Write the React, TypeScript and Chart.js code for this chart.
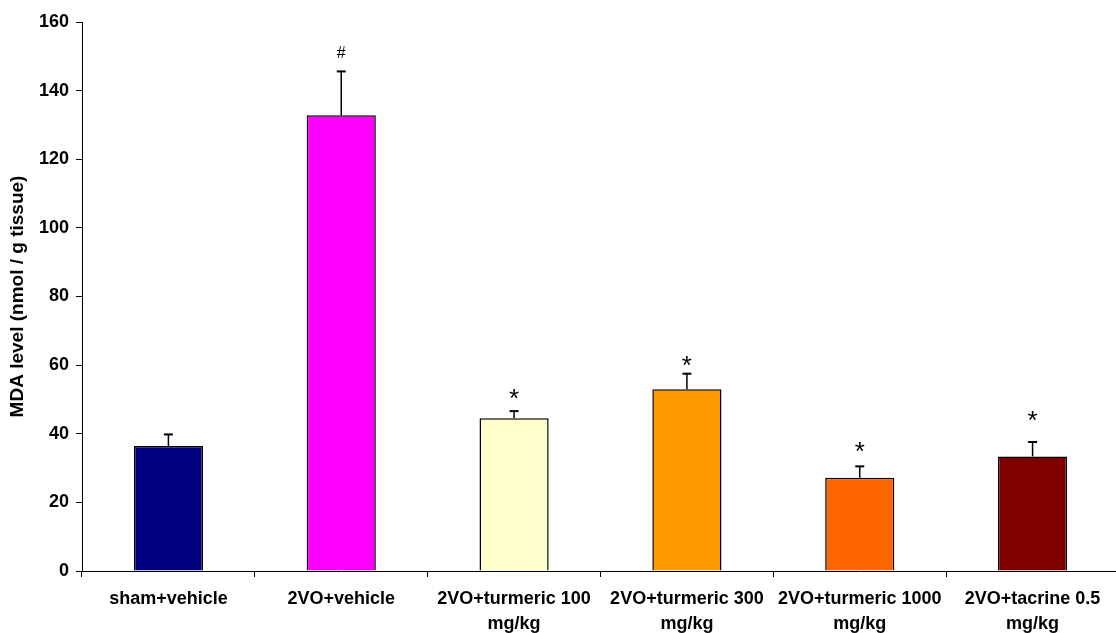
import { useEffect, useRef } from "react";
import { Chart, registerables } from "chart.js";

Chart.register(...registerables);

// Treatment groups (multi-line category labels)
const groups: string[][] = [
  ["sham+vehicle"],
  ["2VO+vehicle"],
  ["2VO+turmeric 100", "mg/kg"],
  ["2VO+turmeric 300", "mg/kg"],
  ["2VO+turmeric 1000", "mg/kg"],
  ["2VO+tacrine 0.5", "mg/kg"],
];

// MDA level, mean and S.E.M. (nmol / g tissue)
const mdaMean = [36.4, 132.8, 44.5, 53.0, 27.2, 33.4];
const mdaSem = [3.4, 12.8, 2.1, 4.5, 3.3, 4.2];

// Significance marks and the level (nmol / g tissue) each one sits at
const sigMarks = ["", "#", "*", "*", "*", "*"];
const sigLevel = [0, 151.2, 51.7, 61.2, 36.0, 45.3];

const barColors = ["#000080", "#FF00FF", "#FFFFCC", "#FF9900", "#FF6600", "#800000"];

const yMin = 0;
const yMax = 160;
const yStep = 20;

const FONT = "'Liberation Sans', Arial, Helvetica, sans-serif";

const errorBarPlugin = {
  id: "errorBars",
  afterDatasetsDraw(chart: any) {
    const ctx = chart.ctx as CanvasRenderingContext2D;
    const meta = chart.getDatasetMeta(0);
    const yScale = chart.scales.y;
    ctx.save();
    meta.data.forEach((bar: any, i: number) => {
      const x = bar.x;
      const yTop = yScale.getPixelForValue(mdaMean[i] + mdaSem[i]);
      const yBar = bar.y;
      ctx.strokeStyle = "#000";
      ctx.lineWidth = 1.5;
      ctx.beginPath();
      ctx.moveTo(x, yBar);
      ctx.lineTo(x, yTop);
      ctx.stroke();
      ctx.lineWidth = 2;
      ctx.beginPath();
      ctx.moveTo(x - 4.5, yTop);
      ctx.lineTo(x + 4.5, yTop);
      ctx.stroke();

      const mark = sigMarks[i];
      if (mark) {
        const yc = yScale.getPixelForValue(sigLevel[i]);
        ctx.fillStyle = "#000";
        ctx.font = mark === "*" ? `26px ${FONT}` : `16px ${FONT}`;
        ctx.textAlign = "center";
        ctx.textBaseline = "alphabetic";
        const m = ctx.measureText(mark);
        const asc = m.actualBoundingBoxAscent;
        const desc = m.actualBoundingBoxDescent;
        const baseline = yc + (asc - desc) / 2;
        ctx.fillText(mark, x, baseline);
      }
    });
    ctx.restore();
  },
};

export default function App() {
  const canvasRef = useRef<HTMLCanvasElement | null>(null);

  useEffect(() => {
    const canvas = canvasRef.current;
    if (!canvas) return;
    const chart = new Chart(canvas, {
      type: "bar",
      data: {
        labels: groups,
        datasets: [
          {
            data: mdaMean,
            backgroundColor: barColors,
            borderColor: "#000",
            borderWidth: 1.5,
            barPercentage: 0.4,
            categoryPercentage: 1.0,
          },
        ],
      },
      options: {
        responsive: false,
        animation: false,
        devicePixelRatio: 1,
        layout: { padding: { top: 22, left: 0, right: 0, bottom: 0 } },
        plugins: {
          legend: { display: false },
          tooltip: { enabled: false },
        },
        scales: {
          x: {
            type: "category",
            offset: true,
            afterFit: (scale: any) => {
              scale.height = 62;
            },
            grid: {
              display: true,
              offset: true,
              drawOnChartArea: false,
              drawTicks: true,
              tickLength: 6,
              color: "#000",
              lineWidth: 1,
            },
            border: { display: true, color: "#000", width: 1 },
            ticks: {
              color: "#000",
              autoSkip: false,
              maxRotation: 0,
              minRotation: 0,
              padding: 10,
              font: { family: FONT, size: 18, weight: "bold", lineHeight: 1.39 },
            },
          },
          y: {
            min: yMin,
            max: yMax,
            afterFit: (scale: any) => {
              scale.width = 82;
            },
            grid: {
              display: true,
              drawOnChartArea: false,
              drawTicks: true,
              tickLength: 6,
              color: "#000",
              lineWidth: 1,
            },
            border: { display: true, color: "#000", width: 1 },
            ticks: {
              stepSize: yStep,
              color: "#000",
              padding: 7,
              font: { family: FONT, size: 18, weight: "bold" },
            },
            title: {
              display: true,
              text: "MDA level (nmol / g tissue)",
              color: "#000",
              padding: { top: 6, bottom: 0 },
              font: { family: FONT, size: 19, weight: "bold" },
            },
          },
        },
      },
      plugins: [errorBarPlugin],
    } as any);
    return () => chart.destroy();
  }, []);

  return (
    <div
      style={{
        position: "fixed",
        left: 0,
        top: 0,
        width: 1116,
        height: 633,
        overflow: "hidden",
        background: "#fff",
      }}
    >
      <canvas ref={canvasRef} width={1119} height={633} style={{ display: "block" }} />
    </div>
  );
}
